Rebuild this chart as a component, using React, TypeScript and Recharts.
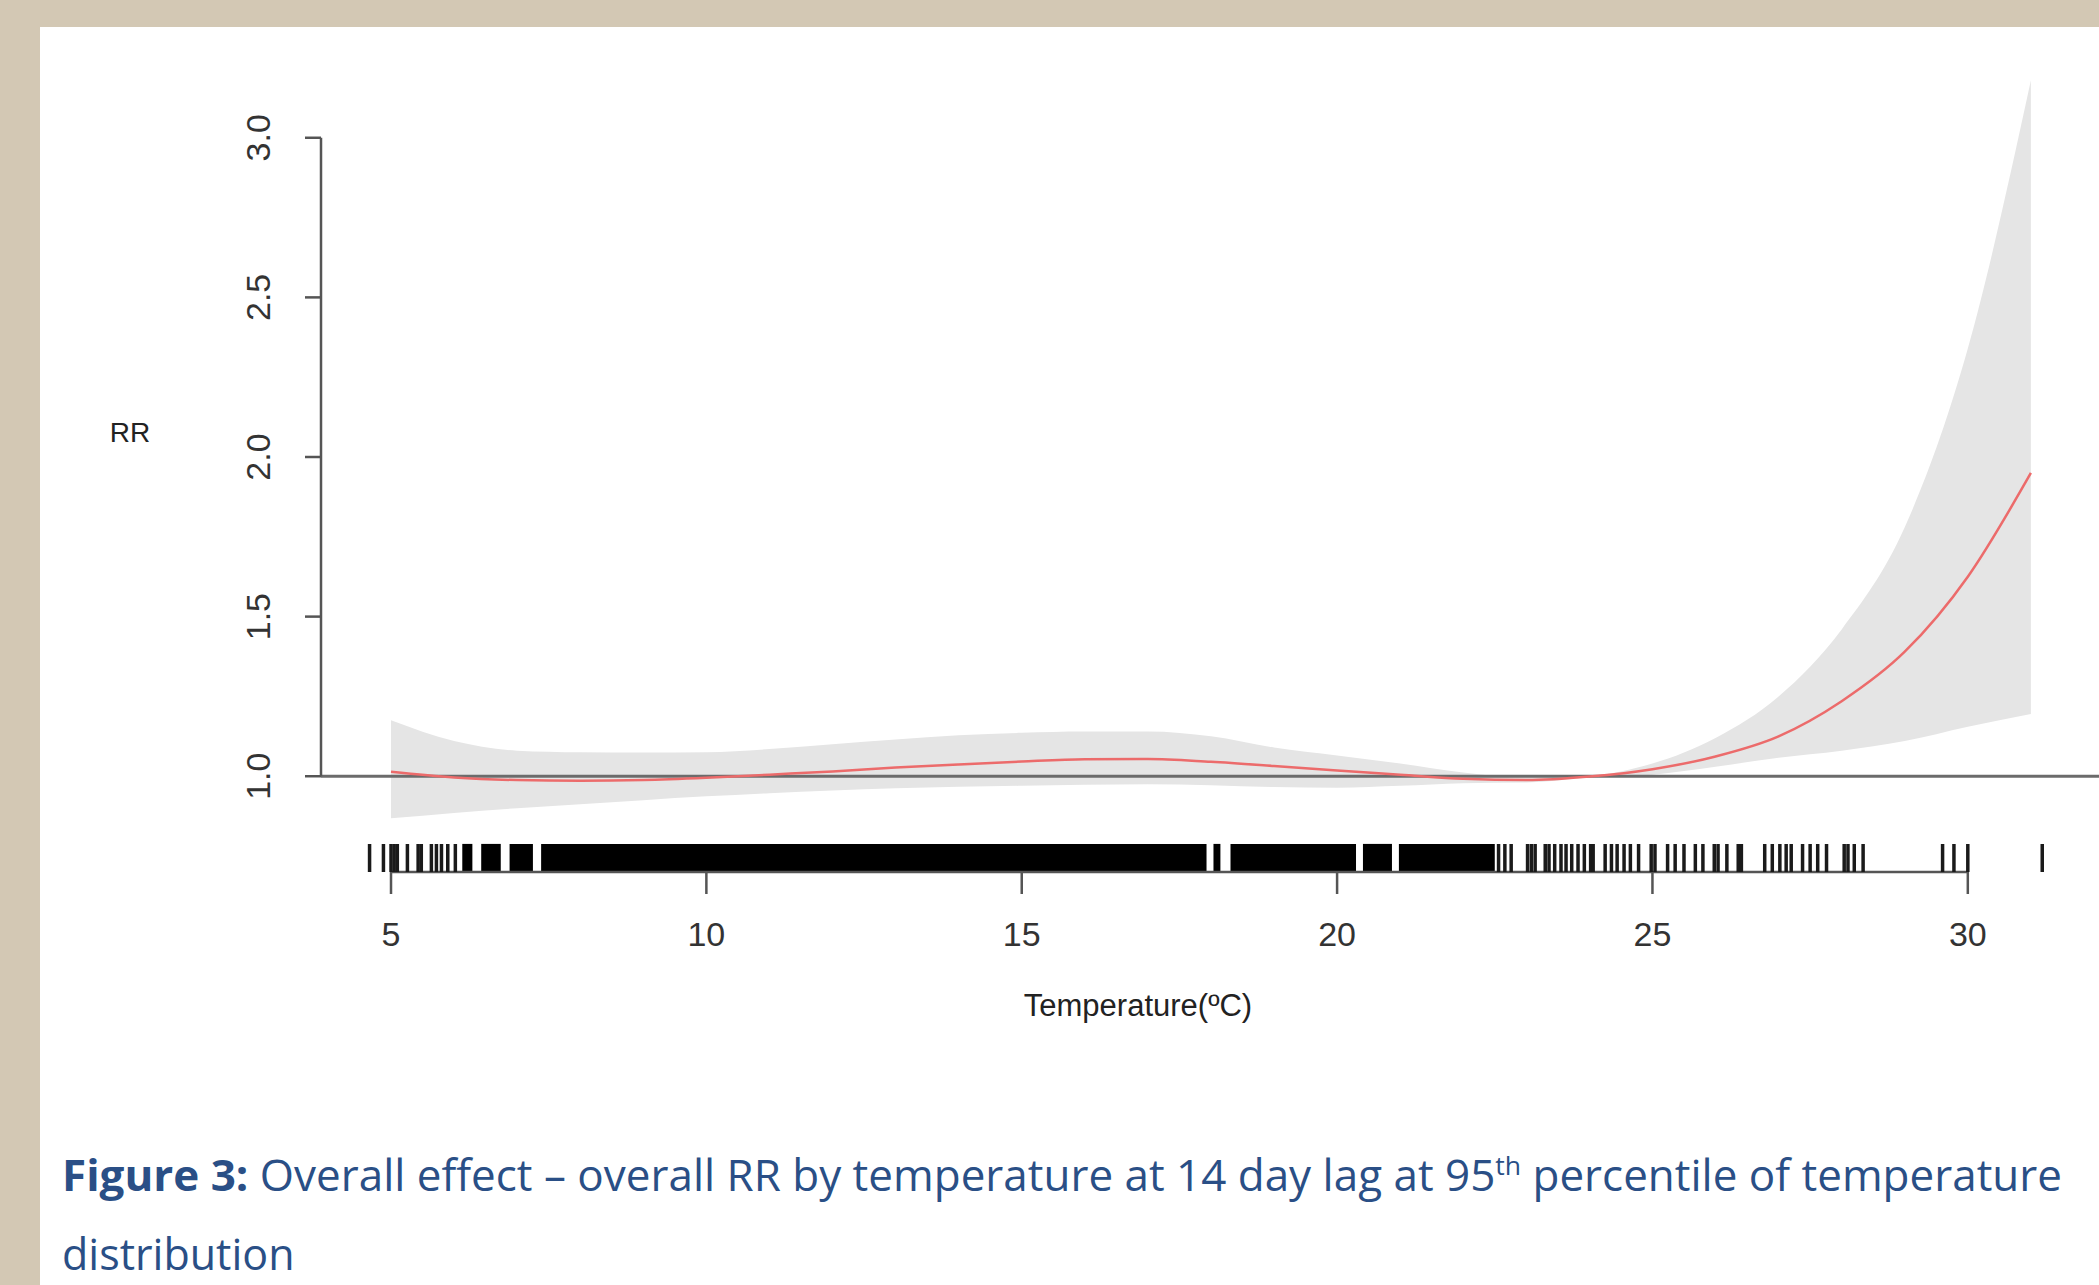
import { ComposedChart, Area, Line, Scatter, XAxis, YAxis, ReferenceLine, ReferenceArea } from 'recharts';

// overall cumulative RR by temperature (14 day lag)
const temps = [5, 6, 7, 8, 9, 10, 11, 12, 13, 14, 15, 16, 17, 18, 19, 20, 21, 22, 23, 24, 25, 26, 27, 28, 29, 30, 31];
const rr = [1.014, 0.996, 0.988, 0.986, 0.988, 0.995, 1.005, 1.015, 1.027, 1.037, 1.046, 1.053, 1.054, 1.045, 1.032, 1.018, 1.005, 0.992, 0.988, 0.999, 1.022, 1.062, 1.125, 1.235, 1.39, 1.625, 1.95];
const ciLow = [0.868, 0.885, 0.9, 0.912, 0.925, 0.937, 0.947, 0.955, 0.962, 0.967, 0.97, 0.973, 0.975, 0.972, 0.966, 0.964, 0.97, 0.978, 0.98, 0.996, 1.005, 1.03, 1.058, 1.08, 1.11, 1.155, 1.195];
const ciHigh = [1.175, 1.11, 1.08, 1.075, 1.074, 1.075, 1.085, 1.1, 1.115, 1.128, 1.136, 1.14, 1.14, 1.125, 1.09, 1.065, 1.04, 1.012, 0.996, 1.002, 1.04, 1.12, 1.25, 1.46, 1.78, 2.34, 3.18];

// rug: single observations, and runs where the marks merge into a solid bar
const rugTicks = [4.66, 4.88, 5.0, 5.05, 5.1, 5.26, 5.43, 5.48, 5.64, 5.72, 5.8, 5.9, 6.02,
  22.56, 22.66, 22.76, 23.02, 23.08, 23.14, 23.3, 23.36, 23.45, 23.55, 23.63, 23.72, 23.82, 23.92,
  24.02, 24.06, 24.25, 24.35, 24.44, 24.55, 24.65, 24.78, 24.98, 25.04, 25.24, 25.36, 25.5, 25.68,
  25.8, 25.98, 26.04, 26.18, 26.36, 26.41, 26.78, 26.9, 27.02, 27.12, 27.2, 27.38, 27.5, 27.62,
  27.76, 28.04, 28.1, 28.2, 28.34, 29.6, 29.78, 30.0, 31.18];
const rugRuns = [[6.13, 6.29], [6.43, 6.74], [6.88, 7.25], [7.38, 17.93], [18.04, 18.15], [18.31, 20.3], [20.41, 20.87], [20.98, 22.5]];

const xTicks = [5, 10, 15, 20, 25, 30];
const yTicks = [1, 1.5, 2, 2.5, 3];

const curve = temps.map((t, i) => ({ temp: t, rr: rr[i], band: [ciLow[i], ciHigh[i]] }));

const X_MIN = 3.89;
const X_MAX = 32.08;
const Y_MIN = 0.7;
const Y_MAX = 3.3;
const RUG_TOP = Y_MIN + 0.088;

const AXIS = '#555';
const FONT = '"Liberation Sans", Arial, sans-serif';

const YTick = (props: any) => {
  const { y, payload } = props;
  return (
    <text x={258} y={y} transform={`rotate(-90 258 ${y})`} textAnchor="middle" dominantBaseline="central"
      fontSize={34} fontFamily={FONT} fill="#333">
      {payload.value.toFixed(1)}
    </text>
  );
};

const XTick = (props: any) => {
  const { x, payload } = props;
  return (
    <text x={x} y={934} textAnchor="middle" dominantBaseline="central" fontSize={34} fontFamily={FONT} fill="#333">
      {payload.value}
    </text>
  );
};

const RugMark = (props: any) => (
  <line x1={props.cx} x2={props.cx} y1={props.cy} y2={props.cy - 28} stroke="#1a1a1a" strokeWidth={3.5} />
);

export default function App() {
  return (
    <div style={{ position: 'absolute', left: 0, top: 0, width: 2099, height: 1285, background: '#D3C8B4', overflow: 'hidden' }}>
      <div style={{ position: 'absolute', left: 40, top: 27, right: 0, bottom: 0, background: '#fff' }} />
      <div style={{ position: 'absolute', left: 0, top: 0 }}>
        <ComposedChart width={2099} height={1285} data={curve} margin={{ top: 42, right: 0, left: 261, bottom: 323 }}>
          <XAxis dataKey="temp" type="number" domain={[X_MIN, X_MAX]} allowDataOverflow ticks={xTicks}
            axisLine={false} tickLine={{ stroke: AXIS, strokeWidth: 2.5 }} tickSize={22} height={90} tick={<XTick />} />
          <YAxis type="number" domain={[Y_MIN, Y_MAX]} allowDataOverflow ticks={yTicks} width={60}
            axisLine={false} tickLine={{ stroke: AXIS, strokeWidth: 2.5 }} tickSize={16} tick={<YTick />} />
          <Area dataKey="band" type="monotone" stroke="none" fill="#E5E5E5" fillOpacity={1} isAnimationActive={false} />
          <ReferenceLine y={1} stroke="#6b6b6b" strokeWidth={3} />
          <Line dataKey="rr" type="monotone" stroke="#EC6B6B" strokeWidth={2.5} dot={false} isAnimationActive={false} />
          {rugRuns.map(([a, b], i) => (
            <ReferenceArea key={i} x1={a} x2={b} y1={Y_MIN} y2={RUG_TOP} fill="#000" fillOpacity={1} stroke="none" />
          ))}
          <Scatter data={rugTicks.map((t) => ({ temp: t, rr: Y_MIN }))} dataKey="rr" shape={<RugMark />} isAnimationActive={false} />
          <ReferenceLine segment={[{ x: X_MIN, y: 1 }, { x: X_MIN, y: 3 }]} stroke={AXIS} strokeWidth={2.5} ifOverflow="visible" />
          <ReferenceLine segment={[{ x: 5, y: Y_MIN }, { x: 30, y: Y_MIN }]} stroke={AXIS} strokeWidth={2.5} ifOverflow="visible" />
        </ComposedChart>
      </div>
      <div style={{ position: 'absolute', left: 130, top: 433, transform: 'translate(-50%, -50%)', fontFamily: FONT, fontSize: 28, color: '#222' }}>
        RR
      </div>
      <div style={{ position: 'absolute', left: 1138, top: 1006, transform: 'translate(-50%, -50%)', fontFamily: FONT, fontSize: 31, color: '#222', whiteSpace: 'nowrap' }}>
        Temperature(ºC)
      </div>
      <svg style={{ position: 'absolute', left: 0, top: 1120 }} width={2099} height={165}>
        <text x={62} y={71} textLength={2000} lengthAdjust="spacingAndGlyphs" fontFamily='"Open Sans", sans-serif' fontSize={43} fill="#2A4F86">
          <tspan fontWeight="bold">Figure 3:</tspan>
          <tspan> Overall effect – overall RR by temperature at 14 day lag at 95</tspan>
          <tspan fontSize={26} dy={-16}>th</tspan>
          <tspan dy={16}> percentile of temperature</tspan>
        </text>
        <text x={62} y={150} fontFamily='"Open Sans", sans-serif' fontSize={43} fill="#2A4F86">distribution</text>
      </svg>
    </div>
  );
}
